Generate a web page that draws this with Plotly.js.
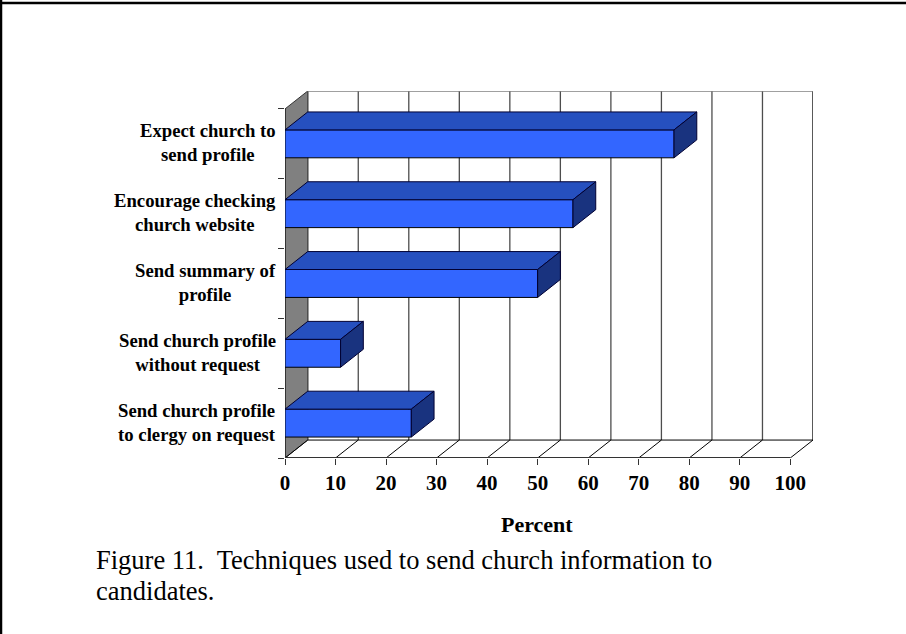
<!DOCTYPE html>
<html>
<head>
<meta charset="utf-8">
<script src="https://cdn.plot.ly/plotly-3.0.1.min.js"></script>
<style>
html, body { margin: 0; padding: 0; background: #fff; }
#chart { width: 906px; height: 634px; }
</style>
</head>
<body>
<div id="chart"></div>
<script>
// Survey shares, listed bottom to top along the category axis
const categories = [
  "Send church profile<br>to clergy on request",
  "Send church profile<br>without request",
  "Send summary of<br>profile",
  "Encourage checking<br>church website",
  "Expect church to<br>send profile"
];
const percents = [25, 11, 50, 57, 77];
const percentTicks = [0, 10, 20, 30, 40, 50, 60, 70, 80, 90, 100];
const captionLines = ["Figure 11.  Techniques used to send church information to", "candidates."];
const axisTitle = "Percent";

// Oblique projection of the box, in axis units
const depthX = 4.5;
const depthY = 0.257;
const barHalf = 0.2;
const xMax = 100 + depthX;
const yMax = categories.length + depthY;
const serif = "Liberation Serif, Times New Roman, serif";

// Plot rectangle in page pixels, used to place text around it
const plotLeft = 285, plotTop = 91, plotRight = 813, plotBottom = 458;
const paperX = px => (px - plotLeft) / (plotRight - plotLeft);
const paperY = py => (plotBottom - py) / (plotBottom - plotTop);

const traces = [];
const polygon = (xs, ys, fill, edge) => traces.push({
  type: "scatter", mode: "lines", x: xs.concat(xs[0]), y: ys.concat(ys[0]),
  fill: "toself", fillcolor: fill, line: {color: edge, width: 1},
  hoverinfo: "skip", showlegend: false, cliponaxis: false
});

// Front faces come from the bar trace; the top and end faces are added on top of it
traces.push({
  type: "bar", orientation: "h",
  x: percents, y: categories.map((_, i) => i + 0.5),
  width: barHalf * 2,
  marker: {color: "#3366ff", line: {color: "#000000", width: 1}},
  showlegend: false, cliponaxis: false
});
percents.forEach((v, i) => {
  const lo = i + 0.5 - barHalf, hi = i + 0.5 + barHalf;
  polygon([0, v, v + depthX, depthX], [hi, hi, hi + depthY, hi + depthY], "#2650bf", "#000033");
  polygon([v, v + depthX, v + depthX, v], [lo, lo + depthY, hi + depthY, hi], "#19337f", "#000033");
});

// Wall, floor and grid sit beneath the bars
const shapes = [];
const seg = (x0, y0, x1, y1, color, width) => shapes.push({
  type: "line", layer: "below", xref: "x", yref: "y",
  x0, y0, x1, y1, line: {color, width}
});
shapes.push({
  type: "path", layer: "below", xref: "x", yref: "y",
  path: `M0,0 L${depthX},${depthY} L${depthX},${yMax} L0,${categories.length} Z`,
  fillcolor: "#808080", line: {color: "#333333", width: 1}
});
percentTicks.forEach((t, i) => {
  const last = i === percentTicks.length - 1;
  seg(t + depthX, depthY, t + depthX, yMax, last ? "#000000" : "#4d4d4d", 1.3);
  seg(t, 0, t + depthX, depthY, "#000000", 1);
});
seg(depthX, depthY, xMax, depthY, "#000000", 1);
seg(depthX, yMax, xMax, yMax, "#808080", 1.5);
seg(0, 0, 100, 0, "#333333", 2);
seg(0, 0, 0, categories.length, "#333333", 2);

// The page rule runs along the top and left edges only
const pageRule = (x0, y0, x1, y1, width) => ({
  type: "line", xref: "paper", yref: "paper", layer: "above",
  x0: paperX(x0), y0: paperY(y0), x1: paperX(x1), y1: paperY(y1),
  line: {color: "#000000", width}
});

const captionTops = [560, 591];
const annotations = [
  {
    text: "<b>" + axisTitle + "</b>", xref: "paper", x: paperX(536.5), yref: "paper", y: paperY(524),
    xanchor: "center", yanchor: "middle", showarrow: false,
    font: {family: serif, size: 22, color: "#000000"}
  }
];
captionLines.forEach((line, i) => annotations.push({
  text: line, xref: "paper", x: paperX(94),
  yref: "paper", y: paperY(captionTops[i]), xanchor: "left", yanchor: "middle", align: "left",
  showarrow: false, font: {family: serif, size: 26.5, color: "#000000"}
}));
categories.forEach((label, i) => annotations.push({
  text: "<b>" + label + "</b>", xref: "paper", x: paperX(278),
  yref: "y", y: i + 0.5, yshift: 1, xanchor: "right", yanchor: "middle", align: "center",
  showarrow: false, font: {family: serif, size: 18.7, color: "#000000"}
}));

const layout = {
  width: 906, height: 634,
  margin: {l: plotLeft, r: 906 - plotRight, t: plotTop, b: 634 - plotBottom},
  paper_bgcolor: "#ffffff", plot_bgcolor: "rgba(0,0,0,0)",
  barmode: "overlay", showlegend: false,
  font: {family: serif, color: "#000000"},
  xaxis: {
    range: [0, xMax], tickmode: "array", tickvals: percentTicks,
    ticks: "outside", ticklen: 6, tickwidth: 1, tickcolor: "#333333",
    showgrid: false, zeroline: false, showline: false,
    tickfont: {family: serif, size: 21, color: "#000000", weight: 700}
  },
  yaxis: {
    range: [0, yMax], tickmode: "array", tickvals: [0, 1, 2, 3, 4, 5],
    ticks: "outside", ticklen: 6, tickwidth: 1, tickcolor: "#333333",
    showticklabels: false, showgrid: false, zeroline: false, showline: false
  },
  shapes: shapes.concat([pageRule(1, 0, 1, 634, 2.5), pageRule(0, 3, 906, 3, 2.5)]),
  annotations
};

Plotly.newPlot("chart", traces, layout, {displayModeBar: false, staticPlot: true});
</script>
</body>
</html>
